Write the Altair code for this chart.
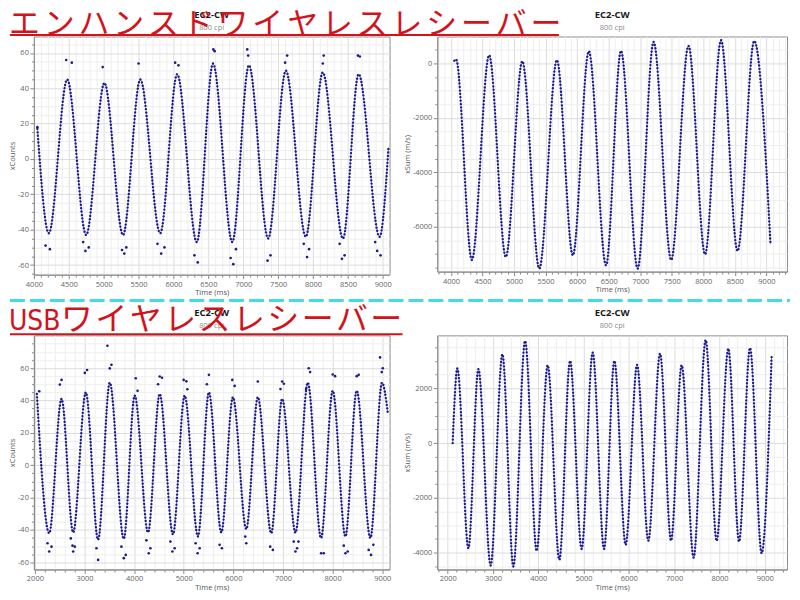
import altair as alt
import pandas as pd

# ---------------- data ----------------
# top-left: xCounts, enhanced receiver (extrema + ends)
tl_t = [4050, 4214, 4477, 4749, 5010, 5277, 5524, 5810, 6053, 6334, 6567, 6843, 7081, 7357,
        7610, 7896, 8139, 8429, 8653, 8953, 9080]
tl_v = [17, -42, 45, -43, 43, -43, 45, -42, 48, -47, 54, -47, 53, -45, 50, -44, 49, -45, 48, -44, 6]
tl_out_t = [4050, 4463, 4543, 4986, 5500, 6024, 6071, 6571, 6590, 7057, 7070, 7629, 7600, 8153, 8140,
            8643, 8670, 4167, 4229, 4706, 4738, 4786, 5262, 5295, 5324, 5771, 5824, 5871, 6300, 6348,
            6819, 6857, 6895, 7348, 7390, 7867, 7914, 7943, 8381, 8414, 8452, 8890, 8919, 8967]
tl_out_v = [18, 56, 54.5, 52, 54, 54.5, 53, 62, 61, 62, 58.5, 58.5, 54.5, 58.5, 54, 58.5, 58,
            -49, -51, -47, -52, -50, -51.5, -53.5, -50, -48, -53.5, -50, -54.5, -58.5,
            -56, -59.5, -51, -57.5, -54.5, -48, -55.5, -51, -48, -56.5, -54.5, -47, -52, -54.5]

# top-right: xSum (m/s), enhanced receiver
tr_t = [4052, 4080, 4331, 4605, 4869, 5131, 5400, 5679, 5932, 6185, 6458, 6695, 6959, 7212,
        7491, 7765, 8028, 8281, 8543, 8807, 9065]
tr_v = [100, 150, -7214, 300, -7105, 80, -7532, 120, -7045, 450, -7411, 460, -7532, 790,
        -7214, 645, -7009, 850, -6885, 825, -6643]

# bottom-left: xCounts, USB receiver
bl_t = [2040, 2288, 2537, 2771, 3026, 3274, 3509, 3791, 4012, 4280, 4515, 4783, 5018, 5286,
        5507, 5757, 5990, 6260, 6493, 6763, 6983, 7252, 7499, 7767, 8002, 8258, 8485, 8761,
        8996, 9109]
bl_v = [44, -42, 41, -41.5, 45, -46, 51, -45.5, 43, -41.5, 44, -42.7, 43, -44, 45, -41.5, 42,
        -39.4, 42, -42, 41, -41.7, 51, -45, 46, -44, 46, -45, 51, 33]
bl_out_t = [2087, 2503, 2537, 3006, 3052, 3462, 3543, 3509, 4032, 4069, 4515, 4562, 4482, 4998,
            5052, 5072, 5507, 5466, 5978, 6026, 6493, 6983, 7017, 6949, 7519, 7546, 7465, 8002,
            8049, 8485, 8525, 8956, 9010, 8990,
            2255, 2288, 2335, 2724, 2758, 2771, 2804, 3241, 3274, 3744, 3791, 3831, 4247, 4294,
            4327, 4730, 4770, 4817, 5240, 5280, 5320, 5722, 5769, 6239, 6260, 6742, 6796, 7217,
            7251, 7284, 7311, 7768, 7821, 8224, 8258, 8304, 8727, 8774, 8821]
bl_out_v = [45.7, 49.8, 52.7, 57, 58.8, 73.8, 62, 59.8, 53.7, 46, 54.8, 54, 50, 52.7,
            51.8, 46.9, 55.8, 50, 52.7, 49, 51.7, 51.7, 50.3, 47, 59.9, 57.5, 47, 56,
            55, 55, 55.8, 66.6, 59.9, 57.5,
            -48.2, -53.3, -50.3, -45.2, -49.7, -53.3, -50.3, -51.3, -58.5, -50.3, -57.4, -55.4,
            -46.4, -54.4, -51.3, -47.2, -53.3, -51.3, -48.2, -54.4, -51.3, -49.2, -51.3, -44.1,
            -48.2, -50.3, -52.3, -47.2, -53.3, -51.3, -47.2, -54.4, -54.4, -49.7, -54.4, -53.3,
            -52.3, -55.4, -49.2]

# bottom-right: xSum (m/s), USB receiver
br_t = [2110, 2214, 2457, 2678, 2949, 3208, 3450, 3709, 3965, 4208, 4466, 4702, 4958, 5201,
        5452, 5680, 5929, 6181, 6430, 6689, 6932, 7166, 7430, 7696, 7938, 8196, 8433, 8675,
        8932, 9152]
br_v = [0, 2727, -3843, 2703, -4473, 3248, -4509, 3734, -3938, 2848, -4265, 3006, -3866, 3309,
        -3866, 3006, -3720, 2861, -3564, 3273, -3564, 2848, -4182, 3770, -3575, 3455, -3600,
        3479, -4025, 3164]

heading_1 = "エンハンスドワイヤレスレシーバー"
heading_2a = "USB"
heading_2b = "ワイヤレスレシーバー"
chart_title = "EC2-CW"
chart_subtitle = "800 cpi"

# ---------------- styling ----------------
FONT = "Open Sans"
JP = "Noto Sans CJK JP"
NAVY = "#1b1b8c"
LIGHT = "#8f8fdc"
RED = "#d3131b"
CYAN = "#3fdde6"


def make_axis(lo, hi, minor, major, title, orient):
    vals = list(range(lo, hi + 1, minor))
    test = f"datum.value % {major} === 0"
    return alt.Axis(
        values=vals,
        labelExpr=f"{test} ? '' + datum.value : ''",
        labelOverlap=False,
        labelFlush=False,
        labelFont=FONT,
        labelFontSize=7.5,
        labelColor="#666666",
        labelPadding=1.5,
        tickColor="#8a8a8a",
        tickSize={"condition": {"test": test, "value": 4}, "value": 2.5},
        grid=True,
        gridColor={"condition": {"test": test, "value": "#dcdcdc"}, "value": "#eeeeee"},
        domainColor="#8a8a8a",
        title=title,
        titleFont=FONT,
        titleFontSize=7.5,
        titleFontWeight="normal",
        titleColor="#555555",
        titlePadding=1,
        orient=orient,
    )


one = pd.DataFrame({"k": [1]})


def panel(t, v, out_t, out_v, xdom, ydom, w, h, xaxis, yaxis, extra=None):
    def enc(chart):
        return chart.encode(
            x=alt.X("t:Q", scale=alt.Scale(domain=xdom, nice=False, zero=False), axis=xaxis),
            y=alt.Y("v:Q", scale=alt.Scale(domain=ydom, nice=False, zero=False), axis=yaxis),
        )
    df = pd.DataFrame({"t": t, "v": v})
    thin = enc(alt.Chart(df).mark_line(interpolate="monotone", color=LIGHT, strokeWidth=0.8))
    dots = enc(alt.Chart(df).mark_line(interpolate="monotone", color=NAVY, strokeWidth=2.4,
                                       strokeDash=[0.01, 3.4], strokeCap="round"))
    layers = [thin, dots]
    if out_t:
        odf = pd.DataFrame({"t": out_t, "v": out_v})
        layers.append(enc(alt.Chart(odf).mark_circle(size=7, color=NAVY, opacity=1)))
    # panel title and subtitle as text marks above the plot area
    layers.append(alt.Chart(one).mark_text(text=chart_title, align="center", baseline="alphabetic",
                                           font=FONT, fontSize=9.5, fontWeight="bold",
                                           color="#1a1a1a")
                  .encode(x=alt.value(w / 2), y=alt.value(-19)))
    layers.append(alt.Chart(one).mark_text(text=chart_subtitle, align="center", baseline="alphabetic",
                                           font=FONT, fontSize=7.5, color="#8a8a8a")
                  .encode(x=alt.value(w / 2), y=alt.value(-7)))
    if extra:
        layers.extend(extra)
    return alt.layer(*layers).properties(width=w, height=h)


def spaced_text(text, x_first, pitch, y, size):
    """one text mark per character so that the wide character pitch of the original is kept"""
    return [alt.Chart(one).mark_text(text=ch, align="center", baseline="alphabetic",
                                     font=JP, fontSize=size, color=RED)
            .encode(x=alt.value(x_first + i * pitch), y=alt.value(y))
            for i, ch in enumerate(text)]


# decorations drawn in the right-hand panels so that they sit above the left panels
head1 = spaced_text(heading_1, -414.5, 34.9, -2.5, 31) + [
    alt.Chart(one).mark_rule(color=RED, strokeWidth=2)
    .encode(x=alt.value(-429), x2=alt.value(122), y=alt.value(-1.5)),
]
head2 = [
    alt.Chart(one).mark_text(text=heading_2a, align="left", baseline="alphabetic",
                             font="DejaVu Sans Condensed, Noto Sans CJK JP",
                             fontSize=28, color=RED)
    .encode(x=alt.value(-430), y=alt.value(-5)),
] + spaced_text(heading_2b, -361.75, 34.5, -5, 32) + [
    alt.Chart(one).mark_rule(color=RED, strokeWidth=2)
    .encode(x=alt.value(-429), x2=alt.value(-35), y=alt.value(-1)),
    alt.Chart(one).mark_rule(color=CYAN, strokeWidth=3, strokeDash=[15, 5])
    .encode(x=alt.value(-429), x2=alt.value(354), y=alt.value(-35)),
]

tl = panel(tl_t, tl_v, tl_out_t, tl_out_v, [4000, 9096], [-65.4, 69.3], 357, 239,
           make_axis(4000, 9000, 100, 500, "Time (ms)", "bottom"),
           make_axis(-65, 65, 5, 20, "xCounts", "left"))
tr = panel(tr_t, tr_v, None, None, [3784, 9327], [-7642, 987], 351, 236,
           make_axis(3800, 9300, 100, 500, "Time (ms)", "bottom"),
           make_axis(-7500, 500, 500, 2000, "xSum (m/s)", "left"), extra=head1)
bl = panel(bl_t, bl_v, bl_out_t, bl_out_v, [1980, 9147], [-64.4, 80.2], 357, 235,
           make_axis(2000, 9000, 200, 1000, "Time (ms)", "bottom"),
           make_axis(-60, 75, 5, 20, "xCounts", "left"))
br = panel(br_t, br_v, None, None, [1772, 9492], [-4618, 3938], 351, 235,
           make_axis(1800, 9400, 200, 1000, "Time (ms)", "bottom"),
           make_axis(-4500, 3500, 500, 2000, "xSum (m/s)", "left"), extra=head2)

chart = alt.concat(tl, tr, bl, br, columns=2, spacing={"row": 61, "column": 48},
                   bounds="flush").properties(
    padding={"left": 0, "top": -0.5, "right": 0, "bottom": 0}
).configure_view(stroke="#8c8c8c", strokeWidth=1)

chart.save("out.html", embed_options={"renderer": "svg", "actions": False})
